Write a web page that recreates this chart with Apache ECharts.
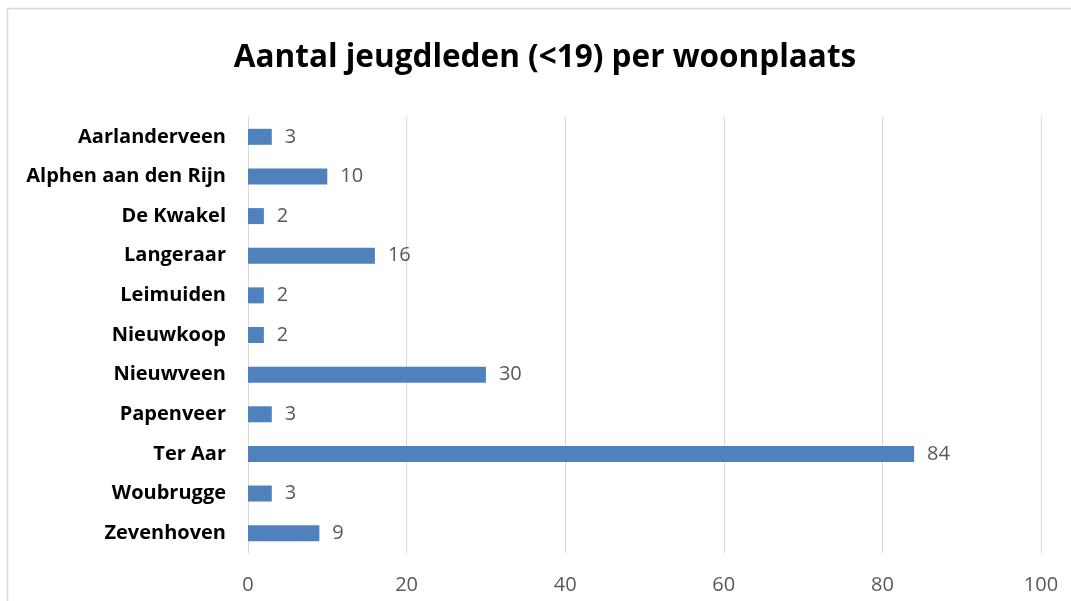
<!DOCTYPE html>
<html><head><meta charset="utf-8">
<script src="https://cdn.jsdelivr.net/npm/echarts@6/dist/echarts.min.js"></script>
<style>html,body{margin:0;padding:0;background:#fff}#c{width:1071px;height:601px}</style>
</head><body><div id="c"></div>
<script>
const categories = ["Aarlanderveen","Alphen aan den Rijn","De Kwakel","Langeraar","Leimuiden","Nieuwkoop","Nieuwveen","Papenveer","Ter Aar","Woubrugge","Zevenhoven"];
const values = [3,10,2,16,2,2,30,3,84,3,9];
const chart = echarts.init(document.getElementById('c'), null, {renderer:'canvas'});
chart.setOption({
  animation:false,
  backgroundColor:'#fff',
  graphic:[{type:'rect',shape:{x:7.5,y:8.5,width:1100,height:700},style:{fill:'none',stroke:'#d9d9d9',lineWidth:1.5},silent:true}],
  title:{text:'Aantal jeugdleden (<19) per woonplaats',left:540,top:37,textAlign:'center',
    textStyle:{fontFamily:'Open Sans',fontWeight:'bold',fontSize:31.5,color:'#000'}},
  grid:{left:248,right:30,top:117,bottom:48,containLabel:false},
  xAxis:{type:'value',min:0,max:100,interval:20,
    axisLine:{show:false},axisTick:{show:false},
    splitLine:{lineStyle:{color:'#d9d9d9',width:1}},
    axisLabel:{color:'#595959',fontFamily:'Open Sans',fontSize:20,margin:22}},
  yAxis:{type:'category',data:categories,inverse:true,
    axisLine:{lineStyle:{color:'#d9d9d9'}},axisTick:{show:false},
    axisLabel:{color:'#000',fontFamily:'Open Sans',fontWeight:'bold',fontSize:20,margin:22}},
  series:[{type:'bar',data:values,barWidth:16,
    itemStyle:{color:'#4f81bd'},
    label:{show:true,position:'right',distance:13,color:'#595959',fontFamily:'Open Sans',fontSize:20}}]
});
</script></body></html>
